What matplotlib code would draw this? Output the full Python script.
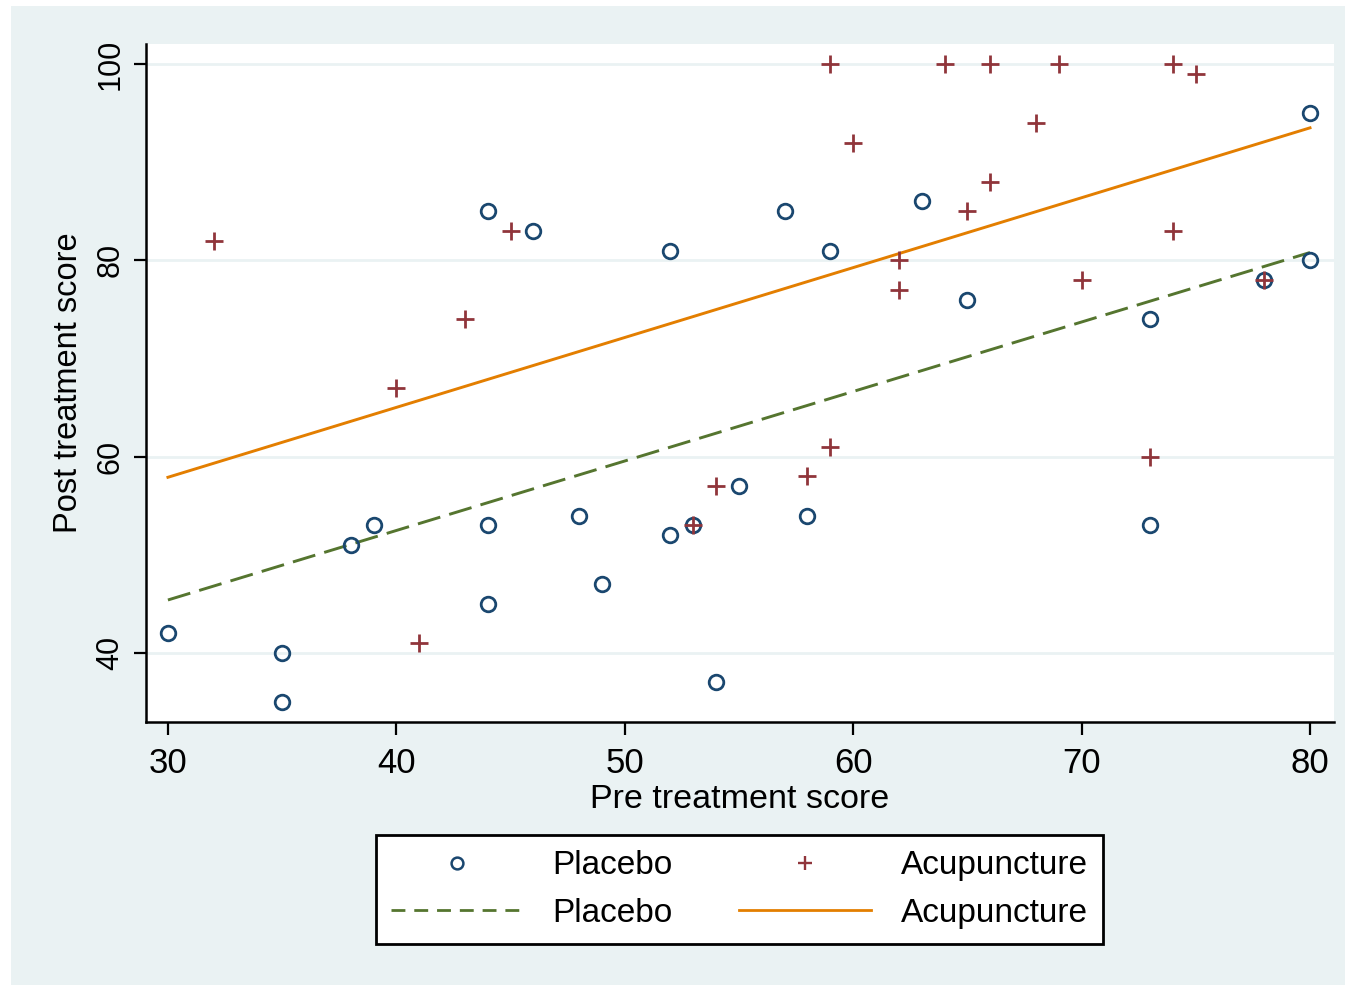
import numpy as np
import matplotlib as mpl
mpl.use('Agg')
import matplotlib.pyplot as plt
from matplotlib.patches import Rectangle
from matplotlib.lines import Line2D

mpl.rcParams.update({
    "font.family": ["Liberation Sans", "DejaVu Sans"],
})

# placebo group (pre, post)
placebo_pre = [30, 35, 35, 38, 39, 44, 44, 44, 46, 48, 49, 52, 52, 53, 54,
               55, 57, 58, 59, 63, 65, 73, 73, 78, 80, 80]
placebo_post = [42, 40, 35, 51, 53, 85, 53, 45, 83, 54, 47, 81, 52, 53, 37,
                57, 85, 54, 81, 86, 76, 74, 53, 78, 95, 80]

# acupuncture group (pre, post)
acu_pre = [32, 40, 41, 43, 45, 53, 54, 58, 59, 59, 60, 62, 62, 64, 65, 66,
           66, 68, 69, 70, 73, 74, 74, 75, 78]
acu_post = [82, 67, 41, 74, 83, 53, 57, 58, 100, 61, 92, 80, 77, 100, 85, 100,
            88, 94, 100, 78, 60, 100, 83, 99, 78]

# fitted lines (end points)
fit_x = [30, 80]
placebo_fit = [45.4, 80.8]
acu_fit = [57.9, 93.5]

xticks = [30, 40, 50, 60, 70, 80]
yticks = [40, 60, 80, 100]

navy = '#1A476F'
maroon = '#90353B'
green = '#55752F'
orange = '#E37E00'
bluegray = '#EAF2F3'

W, H = 1348, 988
fig = plt.figure(figsize=(W / 100, H / 100), dpi=100)
fig.patch.set_facecolor('white')
# graph region (Stata s2color style)
fig.patches.append(Rectangle((11 / W, 1 - 985 / H), (1345 - 11) / W, (985 - 6) / H,
                             transform=fig.transFigure, facecolor=bluegray,
                             edgecolor='none', zorder=-10))

ax = fig.add_axes([146 / W, 1 - 722 / H, (1334 - 146) / W, (722 - 44) / H])
ax.set_facecolor('white')

ax.plot(fit_x, placebo_fit, color=green, lw=2.1, dashes=(8, 3.2), zorder=2)
ax.plot(fit_x, acu_fit, color=orange, lw=2.1, zorder=2)
ax.plot(placebo_pre, placebo_post, 'o', mfc='none', mec=navy, ms=10.5, mew=2.0, zorder=3)
ax.plot(acu_pre, acu_post, '+', color=maroon, ms=13, mew=2.0, zorder=3)

ax.set_xlim(29.04, 81.05)
ax.set_ylim(32.97, 102.04)
ax.set_xticks(xticks)
ax.set_yticks(yticks)
ax.grid(axis='y', color=bluegray, lw=2)
ax.set_axisbelow(True)
for s in ['top', 'right']:
    ax.spines[s].set_visible(False)
for s in ['left', 'bottom']:
    ax.spines[s].set_linewidth(1.8)
ax.tick_params(axis='both', length=9, width=1.6, direction='out')
ax.tick_params(axis='x', labelsize=25, pad=9)
ax.tick_params(axis='y', labelsize=22, pad=6)
for lab in ax.get_yticklabels():
    lab.set_rotation(90)
    lab.set_va('center')
ax.set_xlabel('Pre treatment score', fontsize=24.5, labelpad=3)
ax.set_ylabel('Post treatment score', fontsize=23.5, labelpad=8)

handles = [
    Line2D([], [], ls='none', marker='o', mfc='none', mec=navy, ms=8.5, mew=1.8),
    Line2D([], [], color=green, lw=2.0, dashes=(5, 3.2)),
    Line2D([], [], ls='none', marker='+', color=maroon, ms=10, mew=1.7),
    Line2D([], [], color=orange, lw=2.0),
]
labels = ['Placebo', 'Placebo', 'Acupuncture', 'Acupuncture']
leg = fig.legend(handles, labels, ncol=2, loc='center',
                 bbox_to_anchor=(739.5 / W, 1 - 889.5 / H),
                 fontsize=24, frameon=True, fancybox=False,
                 facecolor='white', framealpha=1,
                 edgecolor='black', handlelength=3.95, handletextpad=0.9,
                 columnspacing=2.0, borderpad=0.45, labelspacing=0.5,
                 borderaxespad=0)
leg.get_frame().set_linewidth(2)

fig.savefig('out.png', dpi=100, facecolor=fig.get_facecolor())
